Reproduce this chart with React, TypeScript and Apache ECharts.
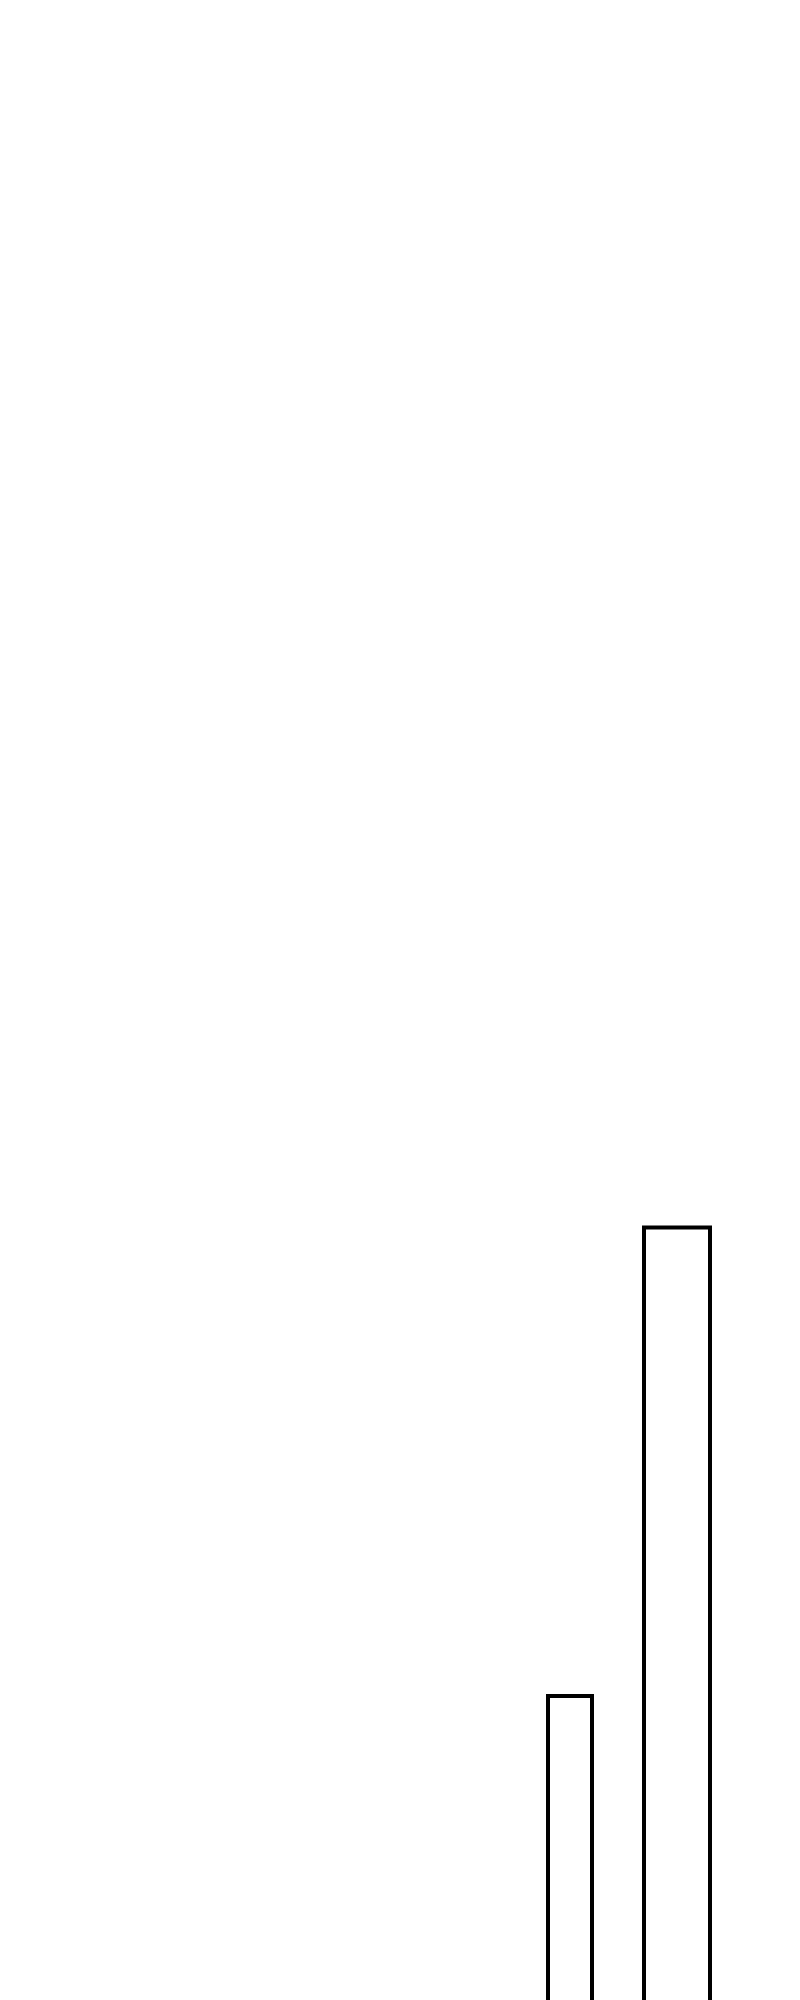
import React, { useRef, useEffect } from 'react';
import * as echarts from 'echarts';

// one category, two outlined bars of different widths
const categories = ['A'];
const narrowValues = [23.0];
const wideValues = [44.3];

const App: React.FC = () => {
  const chartRef = useRef<HTMLDivElement>(null);

  useEffect(() => {
    if (!chartRef.current) return;
    const chart = echarts.init(chartRef.current, null, { renderer: 'svg' });

    const option: echarts.EChartsOption = {
      animation: false,
      backgroundColor: '#ffffff',
      grid: { left: 458, right: 0, top: 0, bottom: 0 },
      xAxis: {
        type: 'category',
        data: categories,
        show: false,
      },
      yAxis: {
        type: 'value',
        min: 0,
        max: 100,
        show: false,
        splitLine: { show: false },
      },
      series: [
        {
          name: 'narrow',
          type: 'bar',
          data: narrowValues,
          barWidth: 48,
          barGap: '100%',
          clip: false,
          itemStyle: { color: '#ffffff', borderColor: '#000000', borderWidth: 4 },
        },
        {
          name: 'wide',
          type: 'bar',
          data: wideValues,
          barWidth: 70,
          clip: false,
          itemStyle: { color: '#ffffff', borderColor: '#000000', borderWidth: 4 },
        },
      ],
    };

    chart.setOption(option);
    return () => chart.dispose();
  }, []);

  // the chart runs past the bottom of the window, so the bar bases are cut off
  return (
    <div style={{ position: 'fixed', left: 0, top: 0, width: 800, height: 2000, overflow: 'hidden', background: '#ffffff' }}>
      <div ref={chartRef} style={{ width: 800, height: 2200 }} />
    </div>
  );
};

export default App;
